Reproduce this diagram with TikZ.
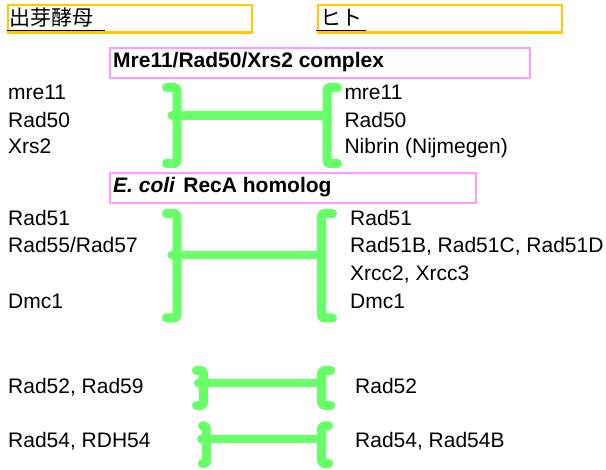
\documentclass[tikz,border=0pt]{standalone}
\usepackage{fontspec}
\setmainfont{Liberation Sans}
\newfontfamily\jpfont{Noto Sans CJK JP}
\definecolor{brgreen}{HTML}{66FF66}
\definecolor{ybox}{HTML}{FFC800}
\definecolor{pbox}{HTML}{FF99FF}
\newcommand\lbrk[6]{% x, top, mid, bot, hook, name
  \draw[brc] (#1-#5,#2) -- (#1-2,#2) -- (#1,#2+2) -- (#1,#4-2) -- (#1-2,#4) -- (#1-#5,#4);
  \fill[brgreen] (#1-5,#3) circle (4.5);
  \coordinate (#6) at (#1,#3);}
\newcommand\rbrk[6]{% x, top, mid, bot, hook, name
  \draw[brc] (#1+#5,#2) -- (#1+2,#2) -- (#1,#2+2) -- (#1,#4-2) -- (#1+2,#4) -- (#1+#5,#4);
  \coordinate (#6) at (#1,#3);}
\begin{document}
\begin{tikzpicture}[x=1pt,y=-1pt,
  lbl/.style={anchor=base west, inner sep=0, font=\fontsize{21}{26}\selectfont},
  hdr/.style={anchor=base west, inner sep=0, font=\fontsize{21}{26}\selectfont\bfseries},
  jp/.style={anchor=base west, inner sep=0, font=\fontsize{21}{26}\jpfont},
  ybx/.style={draw=ybox, line width=2.4pt},
  pbx/.style={draw=pbox, line width=2.4pt},
  brc/.style={draw=brgreen, line width=9pt, line cap=round, line join=round},
  bar/.style={draw=brgreen, line width=8.5pt},
  uline/.style={draw=black, line width=1.1pt}]
\useasboundingbox (0,0) rectangle (606,470);
% header boxes
\path[ybx] (8,5) rectangle (252,32.5);
\path[ybx] (317.7,5) rectangle (561.7,32.5);
\node[jp] (yeast) at (9,26) {出芽酵母};
\node[jp] (human) at (320,26) {ヒト};
\draw[uline] (7,30.5) -- (105,30.5);
\draw[uline] (316,30.5) -- (365.5,30.5);
% pink boxes
\path[pbx] (110,48) rectangle (530,78);
\node[hdr] (mrx) at (113,68) {Mre11/Rad50/Xrs2 complex};
\path[pbx] (110,173) rectangle (476,203);
\node[hdr] (reca) at (113,193) {\textit{E. coli}\hspace{8pt}RecA homolog};
% group 1
\node[lbl] (l11) at (8,100) {mre11};
\node[lbl] (l12) at (8,127.5) {Rad50};
\node[lbl] (l13) at (8,154) {Xrs2};
\node[lbl] (r11) at (344.3,100) {mre11};
\node[lbl] (r12) at (344.3,127.5) {Rad50};
\node[lbl] (r13) at (344.3,154) {Nibrin (Nijmegen)};
% group 2
\node[lbl] (l21) at (8,225.7) {Rad51};
\node[lbl] (l22) at (8,252.3) {Rad55/Rad57};
\node[lbl] (l23) at (8,308.3) {Dmc1};
\node[lbl] (r21) at (350,225.7) {Rad51};
\node[lbl] (r22) at (350,252.3) {Rad51B, Rad51C, Rad51D};
\node[lbl] (r23) at (350,280.7) {Xrcc2, Xrcc3};
\node[lbl] (r24) at (350,308.3) {Dmc1};
% group 3, 4
\node[lbl] (l31) at (8,394) {Rad52, Rad59};
\node[lbl] (r31) at (355,394) {Rad52};
\node[lbl] (l41) at (8,447.7) {Rad54, RDH54};
\node[lbl] (r41) at (355,447.7) {Rad54, Rad54B};
% braces
\lbrk{177}{87.5}{115.5}{163.5}{10.5}{b1l}
\rbrk{327}{87.5}{115.5}{163.5}{10.5}{b1r}
\draw[bar] (b1l) -- (b1r);
\lbrk{177}{213.5}{255}{318}{10.5}{b2l}
\rbrk{321.5}{213.5}{255}{318}{11}{b2r}
\draw[bar] (b2l) -- (b2r);
\lbrk{203.5}{370.5}{383}{405.5}{7}{b3l}
\rbrk{321.7}{370.5}{383}{405.5}{9}{b3r}
\draw[bar] (b3l) -- (b3r);
\lbrk{206.5}{426}{439}{463.5}{4}{b4l}
\rbrk{321.7}{426}{439}{463.5}{7}{b4r}
\draw[bar] (b4l) -- (b4r);
\end{tikzpicture}
\end{document}
